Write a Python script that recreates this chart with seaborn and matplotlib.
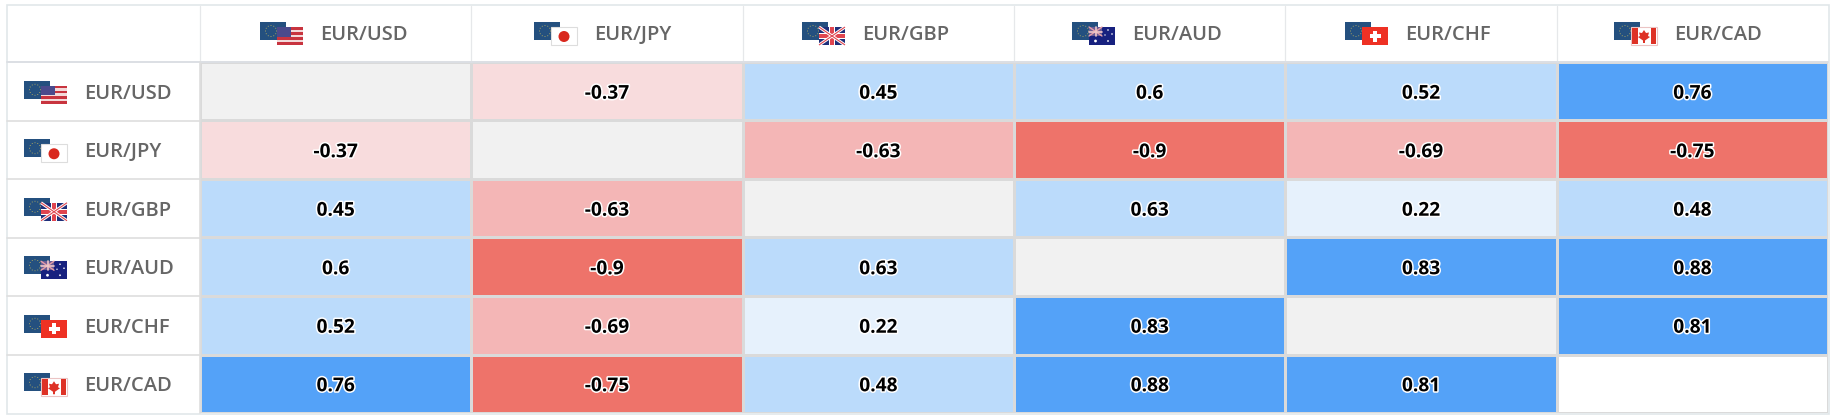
import numpy as np
import pandas as pd
import matplotlib
matplotlib.use("Agg")
import matplotlib.pyplot as plt
import matplotlib.patheffects as pe
from matplotlib.colors import ListedColormap, BoundaryNorm
from matplotlib.patches import Rectangle, Circle, Polygon
import seaborn as sns

pairs = ["EUR/USD", "EUR/JPY", "EUR/GBP", "EUR/AUD", "EUR/CHF", "EUR/CAD"]
usd = [np.nan, -0.37, 0.45, 0.6, 0.52, 0.76]
jpy = [-0.37, np.nan, -0.63, -0.9, -0.69, -0.75]
gbp = [0.45, -0.63, np.nan, 0.63, 0.22, 0.48]
aud = [0.6, -0.9, 0.63, np.nan, 0.83, 0.88]
chf = [0.52, -0.69, 0.22, 0.83, np.nan, 0.81]
cad = [0.76, -0.75, 0.48, 0.88, 0.81, np.nan]

# colour bins used by the table
bins = [-1, -0.7, -0.5, 0, 0.4, 0.7, 1]
bin_colors = ["#EE736A", "#F4B6B6", "#F8DCDD", "#E6F1FC", "#BBDBFB", "#54A2F8"]

df = pd.DataFrame([usd, jpy, gbp, aud, chf, cad], index=pairs, columns=pairs)

W, H = 1834, 420
left, right, top, bottom = 200, 1828, 62, 413
header_flag_x = [260, 534, 802, 1072, 1345, 1614]

sns.set_theme(style="white")
plt.rcParams["font.family"] = ["Open Sans", "DejaVu Sans"]

fig = plt.figure(figsize=(W / 100, H / 100), dpi=100, facecolor="white")
ax = fig.add_axes([left / W, 1 - bottom / H, (right - left) / W, (bottom - top) / H])

# the diagonal is grey, apart from the last cell which stays white
diag = pd.DataFrame(np.eye(6), index=pairs, columns=pairs)
diag.iloc[5, 5] = 0
sns.heatmap(diag, mask=~np.eye(6, dtype=bool), cmap=ListedColormap(["white", "#F1F1F1"]), vmin=0, vmax=1,
            cbar=False, linewidths=1.0, linecolor="#DADADA", ax=ax)
sns.heatmap(df, cmap=ListedColormap(bin_colors), norm=BoundaryNorm(bins, len(bin_colors)),
            annot=True, fmt="g", cbar=False, linewidths=1.0, linecolor="#DADADA", ax=ax,
            annot_kws={"fontsize": 13.8, "fontweight": "bold", "color": "black", "va": "center_baseline",
                       "path_effects": [pe.withStroke(linewidth=2.2, foreground="white")]})
ax.set_xlabel("")
ax.set_ylabel("")
ax.set_xticks([])
ax.set_yticks([])

# overlay in pixel coordinates for table frame, flags and labels
ov = fig.add_axes([0, 0, 1, 1], facecolor="none")
ov.set_xlim(0, W)
ov.set_ylim(H, 0)
ov.axis("off")


def euro(x, y):
    ov.add_patch(Rectangle((x, y), 26, 18, fc="#24507F", ec="none"))
    for a in np.linspace(0, 2 * np.pi, 12, endpoint=False):
        ov.add_patch(Circle((x + 11 + 5.5 * np.cos(a), y + 9 + 5.5 * np.sin(a)), 0.5, fc="#B8B060", ec="none"))


def flag(code, x, y):
    if code == "USD":
        for i in range(7):
            ov.add_patch(Rectangle((x, y + i * 18 / 7), 26, 18 / 7, fc="#C8343F" if i % 2 == 0 else "#F3DADA", ec="none"))
        ov.add_patch(Rectangle((x, y), 14, 9.5, fc="#4A4A8C", ec="none"))
    elif code == "JPY":
        ov.add_patch(Rectangle((x, y), 26, 18, fc="white", ec="#DDDDDD", lw=0.8))
        ov.add_patch(Circle((x + 13, y + 9.5), 5.5, fc="#D9281E", ec="none"))
    elif code == "GBP":
        ov.add_patch(Rectangle((x, y), 26, 18, fc="#1F2F7A", ec="none"))
        ov.plot([x, x + 26], [y, y + 18], color="white", lw=2.2, solid_capstyle="butt")
        ov.plot([x, x + 26], [y + 18, y], color="white", lw=2.2, solid_capstyle="butt")
        ov.plot([x, x + 26], [y, y + 18], color="#E0454F", lw=0.8, solid_capstyle="butt")
        ov.plot([x, x + 26], [y + 18, y], color="#E0454F", lw=0.8, solid_capstyle="butt")
        ov.add_patch(Rectangle((x + 10, y), 6, 18, fc="white", ec="none"))
        ov.add_patch(Rectangle((x, y + 6), 26, 6, fc="white", ec="none"))
        ov.add_patch(Rectangle((x + 11, y), 4, 18, fc="#E0454F", ec="none"))
        ov.add_patch(Rectangle((x, y + 7), 26, 4, fc="#E0454F", ec="none"))
    elif code == "AUD":
        ov.add_patch(Rectangle((x, y), 26, 18, fc="#17217F", ec="none"))
        ov.add_patch(Rectangle((x, y), 13, 9, fc="#6A5C95", ec="none"))
        ov.plot([x, x + 13], [y, y + 9], color="#E8A0A8", lw=1)
        ov.plot([x, x + 13], [y + 9, y], color="#E8A0A8", lw=1)
        ov.plot([x + 6.5, x + 6.5], [y, y + 9], color="#F0C8C8", lw=1.2)
        ov.plot([x, x + 13], [y + 4.5, y + 4.5], color="#F0C8C8", lw=1.2)
        for dx, dy, r in [(6.5, 14, 1.4), (19, 3, 0.8), (23, 7, 0.8), (19, 14, 0.9), (16, 8, 0.7)]:
            ov.add_patch(Circle((x + dx, y + dy), r, fc="white", ec="none"))
    elif code == "CHF":
        ov.add_patch(Rectangle((x, y), 26, 18, fc="#EE3124", ec="none"))
        ov.add_patch(Rectangle((x + 11, y + 3.5), 4, 11, fc="white", ec="none"))
        ov.add_patch(Rectangle((x + 7.5, y + 7), 11, 4, fc="white", ec="none"))
    elif code == "CAD":
        ov.add_patch(Rectangle((x, y), 26, 18, fc="white", ec="#EBC4C4", lw=0.8))
        ov.add_patch(Rectangle((x + 1, y + 1), 5.5, 16, fc="#DE3226", ec="none"))
        ov.add_patch(Rectangle((x + 19.5, y + 1), 5.5, 16, fc="#DE3226", ec="none"))
        leaf = [(13, 3), (15, 6), (18, 5.5), (17, 9), (19, 10), (14, 13.5), (14, 16),
                (12, 16), (12, 13.5), (7, 10), (9, 9), (8, 5.5), (11, 6)]
        ov.add_patch(Polygon([(x + a, y + b) for a, b in leaf], fc="#DE3226", ec="none"))


def pair_label(label, x, y, text_x, text_y):
    euro(x, y)
    flag(label[-3:], x + 17, y + 5)
    ov.text(text_x, text_y, label, fontsize=14.5, fontweight="semibold", color="#666666", ha="left", va="center")


# frame
ov.add_patch(Rectangle((6.5, 4.5), 1822, 409, fc="none", ec="#E1E7EA", lw=1.2))
col_w = (right - left) / 6
row_h = (bottom - top) / 6
for i in range(6):
    ov.plot([left + i * col_w] * 2, [6, top], color="#E6E8EA", lw=0.9)
ov.plot([7, right], [top, top], color="#DCDFE4", lw=1.4)
ov.plot([left, left], [top, bottom], color="#DEDEDE", lw=1.2)
for i in range(1, 6):
    ov.plot([7, left], [top + i * row_h] * 2, color="#DEDEDE", lw=1.2)

for i, label in enumerate(pairs):
    pair_label(label, header_flag_x[i], 22, header_flag_x[i] + 60, 34.5)
    yc = top + (i + 0.5) * row_h
    pair_label(label, 24, yc - 10.5, 84, yc + 2.5)

fig.savefig("out.png", dpi=100)
